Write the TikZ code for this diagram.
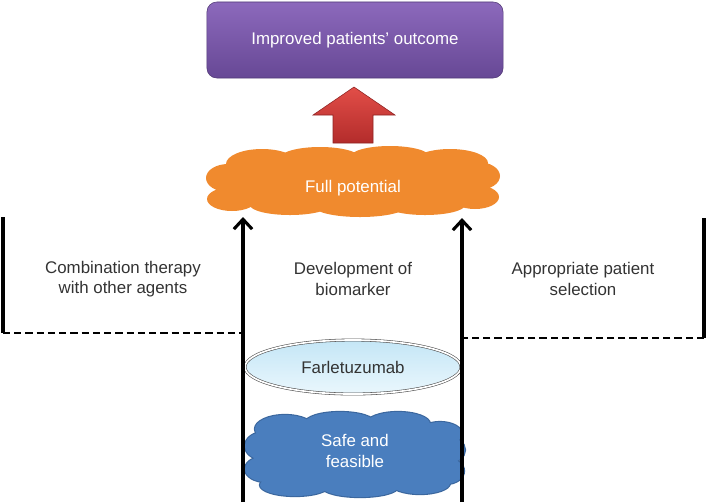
\documentclass[tikz,border=0pt]{standalone}
\usepackage{fontspec}
\setmainfont{Liberation Sans}
\usetikzlibrary{shapes.geometric,arrows.meta}
\definecolor{outtop}{HTML}{8C69BC}
\definecolor{outbot}{HTML}{674895}
\definecolor{potorange}{HTML}{F08A2E}
\definecolor{safeblue}{HTML}{4A7EBE}
\definecolor{safeline}{HTML}{3B679E}
\definecolor{farltop}{HTML}{C4E6F6}
\definecolor{farlbot}{HTML}{EAF7FD}
\definecolor{uptop}{HTML}{E24E48}
\definecolor{upbot}{HTML}{B32C2B}
\definecolor{txt}{HTML}{333333}

\begin{document}
\begin{tikzpicture}[x=0.025cm, y=-0.025cm,
    font=\fontsize{12}{14.5}\selectfont,
    outcome_box/.style={rounded corners=7pt, top color=outtop, bottom color=outbot,
        draw=outbot!80!black, minimum width=7.4cm, minimum height=1.9cm, text=white},
    cloud_text/.style={align=center, text=white},
    drug_oval/.style={ellipse, top color=farltop, bottom color=farlbot,
        draw=black!70, double=white, double distance=1.2pt,
        minimum width=5.4cm, minimum height=1.35cm, text=txt},
    path_label/.style={align=center, text=txt},
    up_arrow/.style={line width=2.2pt, -{Straight Barb[length=7pt,width=13pt,line width=2.2pt]}},
    side_line/.style={line width=2.2pt},
    side_dash/.style={line width=1.3pt, dash pattern=on 5pt off 3pt}
]
    \useasboundingbox (0,0) rectangle (707,502);
    % Nuvem laranja
    \foreach \cx/\cy/\rx/\ry in {353/183/135/28, 262/164/36/15, 320/158/40/11,
        390/157/40/11, 450/163/38/14, 228/178/22/14, 232/199/25/12,
        478/176/22/14, 475/197/24/12, 290/205/40/10, 360/207/45/10, 425/205/40/10}
        \fill[potorange] (\cx,\cy) ellipse [x radius=\rx, y radius=\ry];
    % Nuvem azul
    \foreach \cx/\cy/\rx/\ry in {355/455/95/30, 285/429/30/14, 340/423/35/11,
        398/424/32/12, 440/434/22/12, 264/446/19/14, 266/469/21/13,
        448/450/17/13, 446/471/18/13, 295/485/35/11, 360/487/38/10, 420/483/30/11}
        \draw[safeline, line width=1.6pt] (\cx,\cy) ellipse [x radius=\rx, y radius=\ry];
    \foreach \cx/\cy/\rx/\ry in {355/455/95/30, 285/429/30/14, 340/423/35/11,
        398/424/32/12, 440/434/22/12, 264/446/19/14, 266/469/21/13,
        448/450/17/13, 446/471/18/13, 295/485/35/11, 360/487/38/10, 420/483/30/11}
        \fill[safeblue] (\cx,\cy) ellipse [x radius=\rx, y radius=\ry];
    % Pontos de partida
    \coordinate (lstart) at (243,502);
    \coordinate (lend) at (243,217);
    \coordinate (rstart) at (462,502);
    \coordinate (rend) at (462,218);
    % Caixas e textos das nuvens
    \node[outcome_box] (outcome) at (355,40) {Improved patients' outcome};
    \node[cloud_text] (potential) at (353,188) {Full potential};
    \node[drug_oval] (farl) at (353,367) {Farletuzumab};
    \node[cloud_text] (safe) at (355,451) {Safe and\\feasible};
    % Seta vermelha
    \shade[top color=uptop, bottom color=upbot, draw=upbot!80!black]
        (354,87) -- (395,115) -- (373,115) -- (373,143) -- (333,143) -- (333,115)
        -- (313,115) -- cycle;
    % Setas verticais
    \draw[up_arrow] (lstart) -- (lend);
    \draw[up_arrow] (rstart) -- (rend);
    % Colchetes laterais
    \coordinate (ltop) at (3,217);
    \coordinate (lbot) at (3,333);
    \coordinate (rtop) at (704,218);
    \coordinate (rbot) at (704,338);
    \draw[side_line] (ltop) -- (lbot);
    \draw[side_dash] (lbot) -- (lend |- lbot);
    \draw[side_line] (rtop) -- (rbot);
    \draw[side_dash] (rbot) -- (rend |- rbot);
    % Textos
    \node[path_label] (combo) at (123,279) {Combination therapy\\with other agents};
    \node[path_label] (biomark) at (353,279) {Development of\\biomarker};
    \node[path_label] (select) at (583,279) {Appropriate patient\\selection};
\end{tikzpicture}
\end{document}
